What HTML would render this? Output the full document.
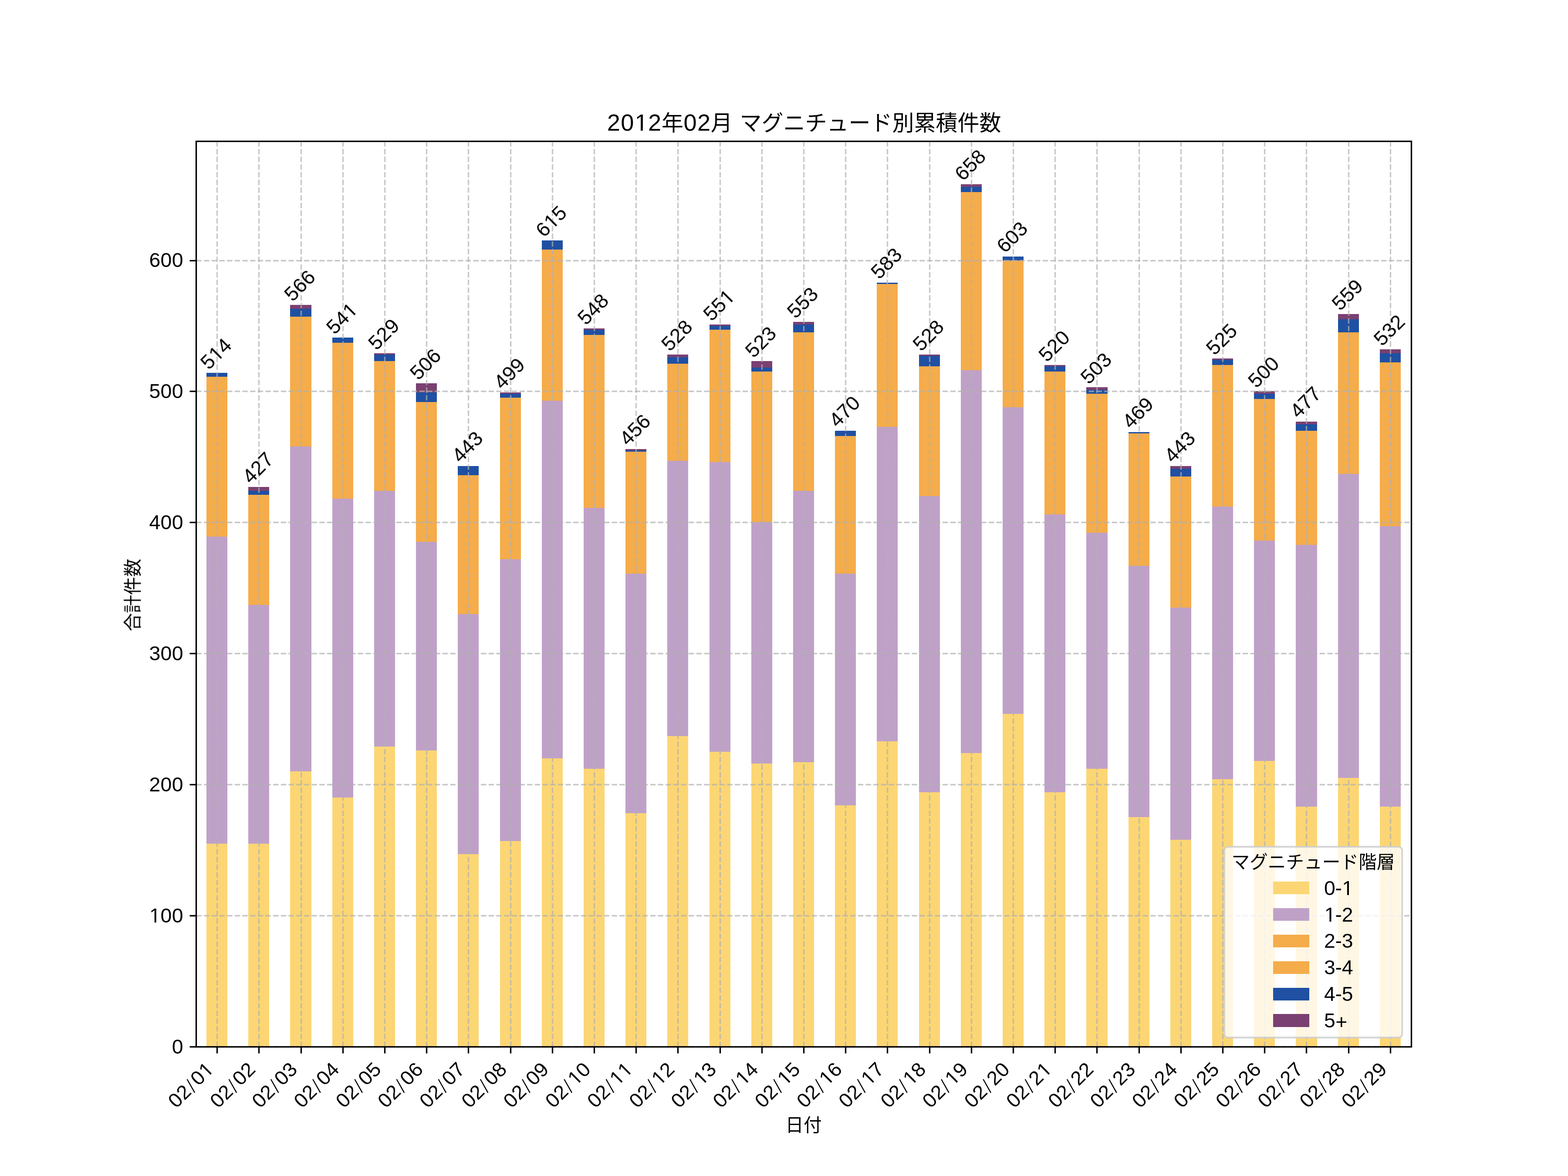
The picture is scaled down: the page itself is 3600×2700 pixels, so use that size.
<!DOCTYPE html>
<html lang="ja"><head><meta charset="utf-8"><title>2012年02月 マグニチュード別累積件数</title>
<style>html,body{margin:0;padding:0;background:#fff}svg{display:block}text{white-space:pre}</style></head>
<body>
<svg width="3600" height="2700" viewBox="0 0 3600 2700">
<defs><clipPath id="c0"><path clip-rule="evenodd" d="M-60 -91.0 H137.1 V45.5 H-60 Z M2.25 -5.00 H12.22 V3 H2.25 Z M16.25 -5.00 H25.87 V3 H16.25 Z"/></clipPath><clipPath id="c1"><path clip-rule="evenodd" d="M-60 -91.0 H182.4 V45.5 H-60 Z M98.94 -5.00 H108.92 V3 H98.94 Z M112.94 -5.00 H122.56 V3 H112.94 Z"/></clipPath><clipPath id="c2"><path clip-rule="evenodd" d="M-60 -91.0 H182.4 V45.5 H-60 Z M73.25 -5.00 H83.22 V3 H73.25 Z M87.24 -5.00 H96.86 V3 H87.24 Z"/></clipPath><clipPath id="c3"><path clip-rule="evenodd" d="M-60 -91.0 H182.4 V45.5 H-60 Z M73.25 -5.00 H83.22 V3 H73.25 Z M87.24 -5.00 H96.86 V3 H87.24 Z M98.94 -5.00 H108.92 V3 H98.94 Z M112.94 -5.00 H122.56 V3 H112.94 Z"/></clipPath><clipPath id="c4"><path clip-rule="evenodd" d="M-60 -91.0 H137.1 V45.5 H-60 Z M27.94 -5.00 H37.92 V3 H27.94 Z M41.94 -5.00 H51.56 V3 H41.94 Z"/></clipPath><clipPath id="c5"><path clip-rule="evenodd" d="M-60 -91.0 H137.1 V45.5 H-60 Z M53.64 -5.00 H63.61 V3 H53.64 Z M67.63 -5.00 H77.26 V3 H67.63 Z"/></clipPath><clipPath id="c6"><path clip-rule="evenodd" d="M-60 -108.4 H185.8 V54.2 H-60 Z M66.40 -5.65 H77.90 V3 H66.40 Z M82.69 -5.65 H93.77 V3 H82.69 Z"/></clipPath><clipPath id="c7"><path clip-rule="evenodd" d="M-60 -91.0 H125.4 V45.5 H-60 Z M42.00 -5.00 H51.97 V3 H42.00 Z M55.99 -5.00 H65.61 V3 H55.99 Z"/></clipPath></defs>
<rect width="3600" height="2700" fill="#fff"/>
<g shape-rendering="crispEdges">
<rect x="474" y="1937" width="48" height="466" fill="#fcd674"/>
<rect x="474" y="1232" width="48" height="705" fill="#bfa1c8"/>
<rect x="474" y="865" width="48" height="367" fill="#f5ac4a"/>
<rect x="474" y="856" width="48" height="9" fill="#1f50a2"/>
<rect x="570" y="1937" width="48" height="466" fill="#fcd674"/>
<rect x="570" y="1389" width="48" height="548" fill="#bfa1c8"/>
<rect x="570" y="1136" width="48" height="253" fill="#f5ac4a"/>
<rect x="570" y="1127" width="48" height="9" fill="#1f50a2"/>
<rect x="570" y="1118" width="48" height="9" fill="#7a4071"/>
<rect x="666" y="1771" width="49" height="632" fill="#fcd674"/>
<rect x="666" y="1025" width="49" height="746" fill="#bfa1c8"/>
<rect x="666" y="727" width="49" height="298" fill="#f5ac4a"/>
<rect x="666" y="709" width="49" height="18" fill="#1f50a2"/>
<rect x="666" y="700" width="49" height="9" fill="#7a4071"/>
<rect x="763" y="1831" width="48" height="572" fill="#fcd674"/>
<rect x="763" y="1145" width="48" height="686" fill="#bfa1c8"/>
<rect x="763" y="787" width="48" height="358" fill="#f5ac4a"/>
<rect x="763" y="775" width="48" height="12" fill="#1f50a2"/>
<rect x="859" y="1714" width="48" height="689" fill="#fcd674"/>
<rect x="859" y="1127" width="48" height="587" fill="#bfa1c8"/>
<rect x="859" y="829" width="48" height="298" fill="#f5ac4a"/>
<rect x="859" y="814" width="48" height="15" fill="#1f50a2"/>
<rect x="859" y="811" width="48" height="3" fill="#7a4071"/>
<rect x="955" y="1723" width="48" height="680" fill="#fcd674"/>
<rect x="955" y="1244" width="48" height="479" fill="#bfa1c8"/>
<rect x="955" y="923" width="48" height="321" fill="#f5ac4a"/>
<rect x="955" y="901" width="48" height="22" fill="#1f50a2"/>
<rect x="955" y="880" width="48" height="21" fill="#7a4071"/>
<rect x="1051" y="1961" width="48" height="442" fill="#fcd674"/>
<rect x="1051" y="1410" width="48" height="551" fill="#bfa1c8"/>
<rect x="1051" y="1091" width="48" height="319" fill="#f5ac4a"/>
<rect x="1051" y="1070" width="48" height="21" fill="#1f50a2"/>
<rect x="1148" y="1931" width="48" height="472" fill="#fcd674"/>
<rect x="1148" y="1284" width="48" height="647" fill="#bfa1c8"/>
<rect x="1148" y="913" width="48" height="371" fill="#f5ac4a"/>
<rect x="1148" y="904" width="48" height="9" fill="#1f50a2"/>
<rect x="1148" y="901" width="48" height="3" fill="#7a4071"/>
<rect x="1244" y="1741" width="48" height="662" fill="#fcd674"/>
<rect x="1244" y="920" width="48" height="821" fill="#bfa1c8"/>
<rect x="1244" y="573" width="48" height="347" fill="#f5ac4a"/>
<rect x="1244" y="552" width="48" height="21" fill="#1f50a2"/>
<rect x="1340" y="1765" width="48" height="638" fill="#fcd674"/>
<rect x="1340" y="1166" width="48" height="599" fill="#bfa1c8"/>
<rect x="1340" y="769" width="48" height="397" fill="#f5ac4a"/>
<rect x="1340" y="757" width="48" height="12" fill="#1f50a2"/>
<rect x="1340" y="754" width="48" height="3" fill="#7a4071"/>
<rect x="1436" y="1867" width="48" height="536" fill="#fcd674"/>
<rect x="1436" y="1317" width="48" height="550" fill="#bfa1c8"/>
<rect x="1436" y="1037" width="48" height="280" fill="#f5ac4a"/>
<rect x="1436" y="1034" width="48" height="3" fill="#1f50a2"/>
<rect x="1436" y="1031" width="48" height="3" fill="#7a4071"/>
<rect x="1532" y="1690" width="48" height="713" fill="#fcd674"/>
<rect x="1532" y="1058" width="48" height="632" fill="#bfa1c8"/>
<rect x="1532" y="835" width="48" height="223" fill="#f5ac4a"/>
<rect x="1532" y="820" width="48" height="15" fill="#1f50a2"/>
<rect x="1532" y="814" width="48" height="6" fill="#7a4071"/>
<rect x="1629" y="1726" width="48" height="677" fill="#fcd674"/>
<rect x="1629" y="1061" width="48" height="665" fill="#bfa1c8"/>
<rect x="1629" y="757" width="48" height="304" fill="#f5ac4a"/>
<rect x="1629" y="748" width="48" height="9" fill="#1f50a2"/>
<rect x="1629" y="745" width="48" height="3" fill="#7a4071"/>
<rect x="1725" y="1753" width="48" height="650" fill="#fcd674"/>
<rect x="1725" y="1199" width="48" height="554" fill="#bfa1c8"/>
<rect x="1725" y="853" width="48" height="346" fill="#f5ac4a"/>
<rect x="1725" y="844" width="48" height="9" fill="#1f50a2"/>
<rect x="1725" y="829" width="48" height="15" fill="#7a4071"/>
<rect x="1821" y="1750" width="48" height="653" fill="#fcd674"/>
<rect x="1821" y="1127" width="48" height="623" fill="#bfa1c8"/>
<rect x="1821" y="763" width="48" height="364" fill="#f5ac4a"/>
<rect x="1821" y="745" width="48" height="18" fill="#1f50a2"/>
<rect x="1821" y="739" width="48" height="6" fill="#7a4071"/>
<rect x="1917" y="1849" width="48" height="554" fill="#fcd674"/>
<rect x="1917" y="1317" width="48" height="532" fill="#bfa1c8"/>
<rect x="1917" y="1001" width="48" height="316" fill="#f5ac4a"/>
<rect x="1917" y="989" width="48" height="12" fill="#1f50a2"/>
<rect x="2013" y="1702" width="48" height="701" fill="#fcd674"/>
<rect x="2013" y="980" width="48" height="722" fill="#bfa1c8"/>
<rect x="2013" y="652" width="48" height="328" fill="#f5ac4a"/>
<rect x="2013" y="649" width="48" height="3" fill="#1f50a2"/>
<rect x="2110" y="1819" width="48" height="584" fill="#fcd674"/>
<rect x="2110" y="1139" width="48" height="680" fill="#bfa1c8"/>
<rect x="2110" y="841" width="48" height="298" fill="#f5ac4a"/>
<rect x="2110" y="817" width="48" height="24" fill="#1f50a2"/>
<rect x="2110" y="814" width="48" height="3" fill="#7a4071"/>
<rect x="2206" y="1729" width="48" height="674" fill="#fcd674"/>
<rect x="2206" y="850" width="48" height="879" fill="#bfa1c8"/>
<rect x="2206" y="441" width="48" height="409" fill="#f5ac4a"/>
<rect x="2206" y="429" width="48" height="12" fill="#1f50a2"/>
<rect x="2206" y="423" width="48" height="6" fill="#7a4071"/>
<rect x="2302" y="1639" width="48" height="764" fill="#fcd674"/>
<rect x="2302" y="935" width="48" height="704" fill="#bfa1c8"/>
<rect x="2302" y="598" width="48" height="337" fill="#f5ac4a"/>
<rect x="2302" y="589" width="48" height="9" fill="#1f50a2"/>
<rect x="2398" y="1819" width="48" height="584" fill="#fcd674"/>
<rect x="2398" y="1181" width="48" height="638" fill="#bfa1c8"/>
<rect x="2398" y="853" width="48" height="328" fill="#f5ac4a"/>
<rect x="2398" y="841" width="48" height="12" fill="#1f50a2"/>
<rect x="2398" y="838" width="48" height="3" fill="#7a4071"/>
<rect x="2494" y="1765" width="49" height="638" fill="#fcd674"/>
<rect x="2494" y="1223" width="49" height="542" fill="#bfa1c8"/>
<rect x="2494" y="904" width="49" height="319" fill="#f5ac4a"/>
<rect x="2494" y="895" width="49" height="9" fill="#1f50a2"/>
<rect x="2494" y="889" width="49" height="6" fill="#7a4071"/>
<rect x="2591" y="1876" width="48" height="527" fill="#fcd674"/>
<rect x="2591" y="1299" width="48" height="577" fill="#bfa1c8"/>
<rect x="2591" y="995" width="48" height="304" fill="#f5ac4a"/>
<rect x="2591" y="992" width="48" height="3" fill="#1f50a2"/>
<rect x="2687" y="1928" width="48" height="475" fill="#fcd674"/>
<rect x="2687" y="1395" width="48" height="533" fill="#bfa1c8"/>
<rect x="2687" y="1094" width="48" height="301" fill="#f5ac4a"/>
<rect x="2687" y="1076" width="48" height="18" fill="#1f50a2"/>
<rect x="2687" y="1070" width="48" height="6" fill="#7a4071"/>
<rect x="2783" y="1789" width="48" height="614" fill="#fcd674"/>
<rect x="2783" y="1163" width="48" height="626" fill="#bfa1c8"/>
<rect x="2783" y="838" width="48" height="325" fill="#f5ac4a"/>
<rect x="2783" y="826" width="48" height="12" fill="#1f50a2"/>
<rect x="2783" y="823" width="48" height="3" fill="#7a4071"/>
<rect x="2879" y="1747" width="48" height="656" fill="#fcd674"/>
<rect x="2879" y="1241" width="48" height="506" fill="#bfa1c8"/>
<rect x="2879" y="916" width="48" height="325" fill="#f5ac4a"/>
<rect x="2879" y="904" width="48" height="12" fill="#1f50a2"/>
<rect x="2879" y="898" width="48" height="6" fill="#7a4071"/>
<rect x="2975" y="1852" width="49" height="551" fill="#fcd674"/>
<rect x="2975" y="1251" width="49" height="601" fill="#bfa1c8"/>
<rect x="2975" y="989" width="49" height="262" fill="#f5ac4a"/>
<rect x="2975" y="974" width="49" height="15" fill="#1f50a2"/>
<rect x="2975" y="968" width="49" height="6" fill="#7a4071"/>
<rect x="3072" y="1786" width="48" height="617" fill="#fcd674"/>
<rect x="3072" y="1088" width="48" height="698" fill="#bfa1c8"/>
<rect x="3072" y="763" width="48" height="325" fill="#f5ac4a"/>
<rect x="3072" y="733" width="48" height="30" fill="#1f50a2"/>
<rect x="3072" y="721" width="48" height="12" fill="#7a4071"/>
<rect x="3168" y="1852" width="48" height="551" fill="#fcd674"/>
<rect x="3168" y="1208" width="48" height="644" fill="#bfa1c8"/>
<rect x="3168" y="832" width="48" height="376" fill="#f5ac4a"/>
<rect x="3168" y="811" width="48" height="21" fill="#1f50a2"/>
<rect x="3168" y="802" width="48" height="9" fill="#7a4071"/>
</g>
<g stroke="rgba(176,176,176,0.7)" stroke-width="3.333" stroke-dasharray="12.333 5.333" fill="none">
<path d="M498.5 2403.5 V324.5"/>
<path d="M594.5 2403.5 V324.5"/>
<path d="M691.5 2403.5 V324.5"/>
<path d="M787.5 2403.5 V324.5"/>
<path d="M883.5 2403.5 V324.5"/>
<path d="M979.5 2403.5 V324.5"/>
<path d="M1075.5 2403.5 V324.5"/>
<path d="M1172.5 2403.5 V324.5"/>
<path d="M1268.5 2403.5 V324.5"/>
<path d="M1364.5 2403.5 V324.5"/>
<path d="M1460.5 2403.5 V324.5"/>
<path d="M1556.5 2403.5 V324.5"/>
<path d="M1653.5 2403.5 V324.5"/>
<path d="M1749.5 2403.5 V324.5"/>
<path d="M1845.5 2403.5 V324.5"/>
<path d="M1941.5 2403.5 V324.5"/>
<path d="M2037.5 2403.5 V324.5"/>
<path d="M2134.5 2403.5 V324.5"/>
<path d="M2230.5 2403.5 V324.5"/>
<path d="M2326.5 2403.5 V324.5"/>
<path d="M2422.5 2403.5 V324.5"/>
<path d="M2518.5 2403.5 V324.5"/>
<path d="M2615.5 2403.5 V324.5"/>
<path d="M2711.5 2403.5 V324.5"/>
<path d="M2807.5 2403.5 V324.5"/>
<path d="M2903.5 2403.5 V324.5"/>
<path d="M2999.5 2403.5 V324.5"/>
<path d="M3096.5 2403.5 V324.5"/>
<path d="M3192.5 2403.5 V324.5"/>
<path d="M450.5 2403.5 H3240.5"/>
<path d="M450.5 2102.5 H3240.5"/>
<path d="M450.5 1801.5 H3240.5"/>
<path d="M450.5 1500.5 H3240.5"/>
<path d="M450.5 1199.5 H3240.5"/>
<path d="M450.5 898.5 H3240.5"/>
<path d="M450.5 598.5 H3240.5"/>
</g>
<g stroke="#000" stroke-width="3.333" fill="none">
<path d="M498.5 2403.5 v15"/>
<path d="M594.5 2403.5 v15"/>
<path d="M691.5 2403.5 v15"/>
<path d="M787.5 2403.5 v15"/>
<path d="M883.5 2403.5 v15"/>
<path d="M979.5 2403.5 v15"/>
<path d="M1075.5 2403.5 v15"/>
<path d="M1172.5 2403.5 v15"/>
<path d="M1268.5 2403.5 v15"/>
<path d="M1364.5 2403.5 v15"/>
<path d="M1460.5 2403.5 v15"/>
<path d="M1556.5 2403.5 v15"/>
<path d="M1653.5 2403.5 v15"/>
<path d="M1749.5 2403.5 v15"/>
<path d="M1845.5 2403.5 v15"/>
<path d="M1941.5 2403.5 v15"/>
<path d="M2037.5 2403.5 v15"/>
<path d="M2134.5 2403.5 v15"/>
<path d="M2230.5 2403.5 v15"/>
<path d="M2326.5 2403.5 v15"/>
<path d="M2422.5 2403.5 v15"/>
<path d="M2518.5 2403.5 v15"/>
<path d="M2615.5 2403.5 v15"/>
<path d="M2711.5 2403.5 v15"/>
<path d="M2807.5 2403.5 v15"/>
<path d="M2903.5 2403.5 v15"/>
<path d="M2999.5 2403.5 v15"/>
<path d="M3096.5 2403.5 v15"/>
<path d="M3192.5 2403.5 v15"/>
<path d="M450.5 2403.5 h-15"/>
<path d="M450.5 2102.5 h-15"/>
<path d="M450.5 1801.5 h-15"/>
<path d="M450.5 1500.5 h-15"/>
<path d="M450.5 1199.5 h-15"/>
<path d="M450.5 898.5 h-15"/>
<path d="M450.5 598.5 h-15"/>
<rect x="450.5" y="324.5" width="2790" height="2079"/>
</g>
<g font-family="'Liberation Sans', sans-serif" fill="#000" opacity="0.999">
<text transform="translate(394.63 2418.70) scale(1.0200 1)" x="0.19" y="0" font-size="45.50">0</text>
<text transform="translate(342.21 2117.79) scale(1.0200 1)" x="0.78 25.89 51.58" y="0" font-size="45.50" clip-path="url(#c0)">100</text>
<text transform="translate(342.21 1816.88) scale(1.0200 1)" x="0.19 25.89 51.58" y="0" font-size="45.50">200</text>
<text transform="translate(342.21 1515.96) scale(1.0200 1)" x="0.19 25.89 51.58" y="0" font-size="45.50">300</text>
<text transform="translate(342.21 1215.05) scale(1.0200 1)" x="0.19 25.89 51.58" y="0" font-size="45.50">400</text>
<text transform="translate(342.21 914.14) scale(1.0200 1)" x="0.19 25.89 51.58" y="0" font-size="45.50">500</text>
<text transform="translate(342.21 613.23) scale(1.0200 1)" x="0.19 25.89 51.58" y="0" font-size="45.50">600</text>
<text transform="translate(404.74 2546.13) rotate(-45) scale(1.0200 1)" x="0.19 25.89 52.98 71.19 97.47" y="0.00 0.00 3.80 0.00 0.00" font-size="45.50" clip-path="url(#c1)">02<tspan font-size="48.55" stroke="#fff" stroke-width="1.20">/</tspan>01</text>
<text transform="translate(500.95 2546.13) rotate(-45) scale(1.0200 1)" x="0.19 25.89 52.98 71.19 96.89" y="0.00 0.00 3.80 0.00 0.00" font-size="45.50">02<tspan font-size="48.55" stroke="#fff" stroke-width="1.20">/</tspan>02</text>
<text transform="translate(597.16 2546.13) rotate(-45) scale(1.0200 1)" x="0.19 25.89 52.98 71.19 96.89" y="0.00 0.00 3.80 0.00 0.00" font-size="45.50">02<tspan font-size="48.55" stroke="#fff" stroke-width="1.20">/</tspan>03</text>
<text transform="translate(693.36 2546.13) rotate(-45) scale(1.0200 1)" x="0.19 25.89 52.98 71.19 96.89" y="0.00 0.00 3.80 0.00 0.00" font-size="45.50">02<tspan font-size="48.55" stroke="#fff" stroke-width="1.20">/</tspan>04</text>
<text transform="translate(789.57 2546.13) rotate(-45) scale(1.0200 1)" x="0.19 25.89 52.98 71.19 96.89" y="0.00 0.00 3.80 0.00 0.00" font-size="45.50">02<tspan font-size="48.55" stroke="#fff" stroke-width="1.20">/</tspan>05</text>
<text transform="translate(885.78 2546.13) rotate(-45) scale(1.0200 1)" x="0.19 25.89 52.98 71.19 96.89" y="0.00 0.00 3.80 0.00 0.00" font-size="45.50">02<tspan font-size="48.55" stroke="#fff" stroke-width="1.20">/</tspan>06</text>
<text transform="translate(981.98 2546.13) rotate(-45) scale(1.0200 1)" x="0.19 25.89 52.98 71.19 96.89" y="0.00 0.00 3.80 0.00 0.00" font-size="45.50">02<tspan font-size="48.55" stroke="#fff" stroke-width="1.20">/</tspan>07</text>
<text transform="translate(1078.19 2546.13) rotate(-45) scale(1.0200 1)" x="0.19 25.89 52.98 71.19 96.89" y="0.00 0.00 3.80 0.00 0.00" font-size="45.50">02<tspan font-size="48.55" stroke="#fff" stroke-width="1.20">/</tspan>08</text>
<text transform="translate(1174.40 2546.13) rotate(-45) scale(1.0200 1)" x="0.19 25.89 52.98 71.19 96.89" y="0.00 0.00 3.80 0.00 0.00" font-size="45.50">02<tspan font-size="48.55" stroke="#fff" stroke-width="1.20">/</tspan>09</text>
<text transform="translate(1270.60 2546.13) rotate(-45) scale(1.0200 1)" x="0.19 25.89 52.98 71.78 96.89" y="0.00 0.00 3.80 0.00 0.00" font-size="45.50" clip-path="url(#c2)">02<tspan font-size="48.55" stroke="#fff" stroke-width="1.20">/</tspan>10</text>
<text transform="translate(1366.81 2546.13) rotate(-45) scale(1.0200 1)" x="0.19 25.89 52.98 71.78 97.47" y="0.00 0.00 3.80 0.00 0.00" font-size="45.50" clip-path="url(#c3)">02<tspan font-size="48.55" stroke="#fff" stroke-width="1.20">/</tspan>11</text>
<text transform="translate(1463.02 2546.13) rotate(-45) scale(1.0200 1)" x="0.19 25.89 52.98 71.78 96.89" y="0.00 0.00 3.80 0.00 0.00" font-size="45.50" clip-path="url(#c2)">02<tspan font-size="48.55" stroke="#fff" stroke-width="1.20">/</tspan>12</text>
<text transform="translate(1559.22 2546.13) rotate(-45) scale(1.0200 1)" x="0.19 25.89 52.98 71.78 96.89" y="0.00 0.00 3.80 0.00 0.00" font-size="45.50" clip-path="url(#c2)">02<tspan font-size="48.55" stroke="#fff" stroke-width="1.20">/</tspan>13</text>
<text transform="translate(1655.43 2546.13) rotate(-45) scale(1.0200 1)" x="0.19 25.89 52.98 71.78 96.89" y="0.00 0.00 3.80 0.00 0.00" font-size="45.50" clip-path="url(#c2)">02<tspan font-size="48.55" stroke="#fff" stroke-width="1.20">/</tspan>14</text>
<text transform="translate(1751.64 2546.13) rotate(-45) scale(1.0200 1)" x="0.19 25.89 52.98 71.78 96.89" y="0.00 0.00 3.80 0.00 0.00" font-size="45.50" clip-path="url(#c2)">02<tspan font-size="48.55" stroke="#fff" stroke-width="1.20">/</tspan>15</text>
<text transform="translate(1847.85 2546.13) rotate(-45) scale(1.0200 1)" x="0.19 25.89 52.98 71.78 96.89" y="0.00 0.00 3.80 0.00 0.00" font-size="45.50" clip-path="url(#c2)">02<tspan font-size="48.55" stroke="#fff" stroke-width="1.20">/</tspan>16</text>
<text transform="translate(1944.05 2546.13) rotate(-45) scale(1.0200 1)" x="0.19 25.89 52.98 71.78 96.89" y="0.00 0.00 3.80 0.00 0.00" font-size="45.50" clip-path="url(#c2)">02<tspan font-size="48.55" stroke="#fff" stroke-width="1.20">/</tspan>17</text>
<text transform="translate(2040.26 2546.13) rotate(-45) scale(1.0200 1)" x="0.19 25.89 52.98 71.78 96.89" y="0.00 0.00 3.80 0.00 0.00" font-size="45.50" clip-path="url(#c2)">02<tspan font-size="48.55" stroke="#fff" stroke-width="1.20">/</tspan>18</text>
<text transform="translate(2136.47 2546.13) rotate(-45) scale(1.0200 1)" x="0.19 25.89 52.98 71.78 96.89" y="0.00 0.00 3.80 0.00 0.00" font-size="45.50" clip-path="url(#c2)">02<tspan font-size="48.55" stroke="#fff" stroke-width="1.20">/</tspan>19</text>
<text transform="translate(2232.67 2546.13) rotate(-45) scale(1.0200 1)" x="0.19 25.89 52.98 71.19 96.89" y="0.00 0.00 3.80 0.00 0.00" font-size="45.50">02<tspan font-size="48.55" stroke="#fff" stroke-width="1.20">/</tspan>20</text>
<text transform="translate(2328.88 2546.13) rotate(-45) scale(1.0200 1)" x="0.19 25.89 52.98 71.19 97.47" y="0.00 0.00 3.80 0.00 0.00" font-size="45.50" clip-path="url(#c1)">02<tspan font-size="48.55" stroke="#fff" stroke-width="1.20">/</tspan>21</text>
<text transform="translate(2425.09 2546.13) rotate(-45) scale(1.0200 1)" x="0.19 25.89 52.98 71.19 96.89" y="0.00 0.00 3.80 0.00 0.00" font-size="45.50">02<tspan font-size="48.55" stroke="#fff" stroke-width="1.20">/</tspan>22</text>
<text transform="translate(2521.29 2546.13) rotate(-45) scale(1.0200 1)" x="0.19 25.89 52.98 71.19 96.89" y="0.00 0.00 3.80 0.00 0.00" font-size="45.50">02<tspan font-size="48.55" stroke="#fff" stroke-width="1.20">/</tspan>23</text>
<text transform="translate(2617.50 2546.13) rotate(-45) scale(1.0200 1)" x="0.19 25.89 52.98 71.19 96.89" y="0.00 0.00 3.80 0.00 0.00" font-size="45.50">02<tspan font-size="48.55" stroke="#fff" stroke-width="1.20">/</tspan>24</text>
<text transform="translate(2713.71 2546.13) rotate(-45) scale(1.0200 1)" x="0.19 25.89 52.98 71.19 96.89" y="0.00 0.00 3.80 0.00 0.00" font-size="45.50">02<tspan font-size="48.55" stroke="#fff" stroke-width="1.20">/</tspan>25</text>
<text transform="translate(2809.91 2546.13) rotate(-45) scale(1.0200 1)" x="0.19 25.89 52.98 71.19 96.89" y="0.00 0.00 3.80 0.00 0.00" font-size="45.50">02<tspan font-size="48.55" stroke="#fff" stroke-width="1.20">/</tspan>26</text>
<text transform="translate(2906.12 2546.13) rotate(-45) scale(1.0200 1)" x="0.19 25.89 52.98 71.19 96.89" y="0.00 0.00 3.80 0.00 0.00" font-size="45.50">02<tspan font-size="48.55" stroke="#fff" stroke-width="1.20">/</tspan>27</text>
<text transform="translate(3002.33 2546.13) rotate(-45) scale(1.0200 1)" x="0.19 25.89 52.98 71.19 96.89" y="0.00 0.00 3.80 0.00 0.00" font-size="45.50">02<tspan font-size="48.55" stroke="#fff" stroke-width="1.20">/</tspan>28</text>
<text transform="translate(3098.53 2546.13) rotate(-45) scale(1.0200 1)" x="0.19 25.89 52.98 71.19 96.89" y="0.00 0.00 3.80 0.00 0.00" font-size="45.50">02<tspan font-size="48.55" stroke="#fff" stroke-width="1.20">/</tspan>29</text>
<text transform="translate(479.36 851.22) rotate(-45) scale(1.0200 1)" x="0.19 26.48 51.58" y="0" font-size="45.50" clip-path="url(#c4)">514</text>
<text transform="translate(575.56 1113.02) rotate(-45) scale(1.0200 1)" x="0.19 25.89 51.58" y="0" font-size="45.50">427</text>
<text transform="translate(671.77 694.75) rotate(-45) scale(1.0200 1)" x="0.19 25.89 51.58" y="0" font-size="45.50">566</text>
<text transform="translate(767.98 769.98) rotate(-45) scale(1.0200 1)" x="0.19 25.89 52.17" y="0" font-size="45.50" clip-path="url(#c5)">541</text>
<text transform="translate(864.18 806.09) rotate(-45) scale(1.0200 1)" x="0.19 25.89 51.58" y="0" font-size="45.50">529</text>
<text transform="translate(960.39 875.29) rotate(-45) scale(1.0200 1)" x="0.19 25.89 51.58" y="0" font-size="45.50">506</text>
<text transform="translate(1056.60 1064.87) rotate(-45) scale(1.0200 1)" x="0.19 25.89 51.58" y="0" font-size="45.50">443</text>
<text transform="translate(1152.80 896.36) rotate(-45) scale(1.0200 1)" x="0.19 25.89 51.58" y="0" font-size="45.50">499</text>
<text transform="translate(1249.01 547.30) rotate(-45) scale(1.0200 1)" x="0.19 26.48 51.58" y="0" font-size="45.50" clip-path="url(#c4)">615</text>
<text transform="translate(1345.22 748.91) rotate(-45) scale(1.0200 1)" x="0.19 25.89 51.58" y="0" font-size="45.50">548</text>
<text transform="translate(1441.43 1025.75) rotate(-45) scale(1.0200 1)" x="0.19 25.89 51.58" y="0" font-size="45.50">456</text>
<text transform="translate(1537.63 809.09) rotate(-45) scale(1.0200 1)" x="0.19 25.89 51.58" y="0" font-size="45.50">528</text>
<text transform="translate(1633.84 739.88) rotate(-45) scale(1.0200 1)" x="0.19 25.89 52.17" y="0" font-size="45.50" clip-path="url(#c5)">551</text>
<text transform="translate(1730.05 824.14) rotate(-45) scale(1.0200 1)" x="0.19 25.89 51.58" y="0" font-size="45.50">523</text>
<text transform="translate(1826.25 733.87) rotate(-45) scale(1.0200 1)" x="0.19 25.89 51.58" y="0" font-size="45.50">553</text>
<text transform="translate(1922.46 983.62) rotate(-45) scale(1.0200 1)" x="0.19 25.89 51.58" y="0" font-size="45.50">470</text>
<text transform="translate(2018.67 643.59) rotate(-45) scale(1.0200 1)" x="0.19 25.89 51.58" y="0" font-size="45.50">583</text>
<text transform="translate(2114.87 809.09) rotate(-45) scale(1.0200 1)" x="0.19 25.89 51.58" y="0" font-size="45.50">528</text>
<text transform="translate(2211.08 417.91) rotate(-45) scale(1.0200 1)" x="0.19 25.89 51.58" y="0" font-size="45.50">658</text>
<text transform="translate(2307.29 583.41) rotate(-45) scale(1.0200 1)" x="0.19 25.89 51.58" y="0" font-size="45.50">603</text>
<text transform="translate(2403.49 833.17) rotate(-45) scale(1.0200 1)" x="0.19 25.89 51.58" y="0" font-size="45.50">520</text>
<text transform="translate(2499.70 884.32) rotate(-45) scale(1.0200 1)" x="0.19 25.89 51.58" y="0" font-size="45.50">503</text>
<text transform="translate(2595.91 986.63) rotate(-45) scale(1.0200 1)" x="0.19 25.89 51.58" y="0" font-size="45.50">469</text>
<text transform="translate(2692.11 1064.87) rotate(-45) scale(1.0200 1)" x="0.19 25.89 51.58" y="0" font-size="45.50">443</text>
<text transform="translate(2788.32 818.12) rotate(-45) scale(1.0200 1)" x="0.19 25.89 51.58" y="0" font-size="45.50">525</text>
<text transform="translate(2884.53 893.35) rotate(-45) scale(1.0200 1)" x="0.19 25.89 51.58" y="0" font-size="45.50">500</text>
<text transform="translate(2980.74 962.56) rotate(-45) scale(1.0200 1)" x="0.19 25.89 51.58" y="0" font-size="45.50">477</text>
<text transform="translate(3076.94 715.81) rotate(-45) scale(1.0200 1)" x="0.19 25.89 51.58" y="0" font-size="45.50">559</text>
<text transform="translate(3173.15 797.06) rotate(-45) scale(1.0200 1)" x="0.19 25.89 51.58" y="0" font-size="45.50">532</text>
<g transform="translate(1393.12 300.00)" font-family="'Liberation Sans', 'Noto Sans CJK JP', sans-serif"><text transform="translate(0.00 0.00)" x="0.65 32.10 64.27 95.00" y="0" font-size="54.20" clip-path="url(#c6)">2012</text><text x="125.80" y="0" font-size="50">年</text><text transform="translate(175.80 0.00)" x="0.65 32.10" y="0" font-size="54.20">02</text><text x="238.70" y="0" font-size="50">月</text><text x="305.35" y="0" font-size="50" textLength="600" lengthAdjust="spacing">マグニチュード別累積件数</text></g>
<g transform="translate(1803.33 2598.40)" font-family="'Liberation Sans', 'Noto Sans CJK JP', sans-serif"><text x="0" y="0" font-size="41.67">日付</text></g>
<g transform="translate(319.70 1449.33) rotate(-90)" font-family="'Liberation Sans', 'Noto Sans CJK JP', sans-serif"><text x="0" y="0" font-size="41.67">合計件数</text></g>
</g>
<rect x="2810.83" y="1944.10" width="408.34" height="438.07" rx="8.33" fill="rgba(255,255,255,0.8)" stroke="rgba(204,204,204,0.8)" stroke-width="4.167"/>
<g font-family="'Liberation Sans', sans-serif" fill="#000" opacity="0.999">
<g transform="translate(2827.50 1994.00)" font-family="'Liberation Sans', 'Noto Sans CJK JP', sans-serif"><text x="0" y="0" font-size="41.67" textLength="375" lengthAdjust="spacing">マグニチュード階層</text></g>
<rect shape-rendering="crispEdges" x="2923" y="2024" width="83" height="29" fill="#fcd674"/>
<text transform="translate(3039.90 2054.57) scale(1.0200 1)" x="0.19 25.14 40.53" y="0" font-size="45.50" clip-path="url(#c7)">0-1</text>
<rect shape-rendering="crispEdges" x="2923" y="2085" width="83" height="29" fill="#bfa1c8"/>
<text transform="translate(3039.90 2115.52) scale(1.0200 1)" x="0.78 25.14 39.94" y="0" font-size="45.50" clip-path="url(#c0)">1-2</text>
<rect shape-rendering="crispEdges" x="2923" y="2146" width="83" height="29" fill="#f5ac4a"/>
<text transform="translate(3039.90 2176.47) scale(1.0200 1)" x="0.19 25.14 39.94" y="0" font-size="45.50">2-3</text>
<rect shape-rendering="crispEdges" x="2923" y="2207" width="83" height="29" fill="#f5ac4a"/>
<text transform="translate(3039.90 2237.42) scale(1.0200 1)" x="0.19 25.14 39.94" y="0" font-size="45.50">3-4</text>
<rect shape-rendering="crispEdges" x="2923" y="2268" width="83" height="29" fill="#1f50a2"/>
<text transform="translate(3039.90 2298.37) scale(1.0200 1)" x="0.19 25.14 39.94" y="0" font-size="45.50">4-5</text>
<rect shape-rendering="crispEdges" x="2923" y="2328" width="83" height="30" fill="#7a4071"/>
<text transform="translate(3039.90 2359.32) scale(1.0200 1)" x="0.19 25.89" y="0.00 3.00" font-size="45.50">5+</text>
</g>
</svg>
</body></html>
